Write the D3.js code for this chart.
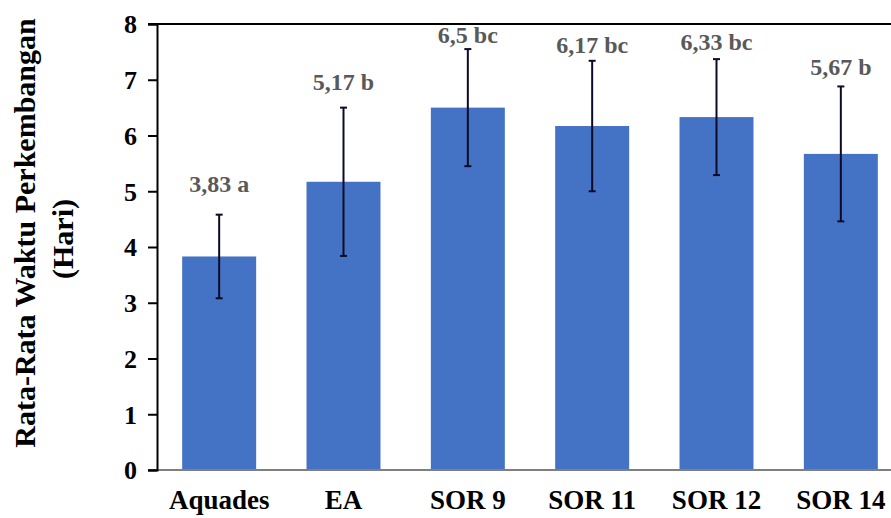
<!DOCTYPE html>
<html>
<head>
<meta charset="utf-8">
<script src="https://cdn.jsdelivr.net/npm/d3@7"></script>
<style>
  html, body { margin: 0; padding: 0; background: #fff; }
  svg { display: block; overflow: hidden; }
</style>
</head>
<body>
<svg id="chart"></svg>
<script>
// Data
const categories = ["Aquades", "EA", "SOR 9", "SOR 11", "SOR 12", "SOR 14"];
const means = [3.83, 5.17, 6.5, 6.17, 6.33, 5.67];
const errors = [0.75, 1.33, 1.05, 1.17, 1.04, 1.21];
const notations = ["3,83 a", "5,17 b", "6,5 bc", "6,17 bc", "6,33 bc", "5,67 b"];
const yTicks = [0, 1, 2, 3, 4, 5, 6, 7, 8];

// Size of chart svg
var width = 891;
var height = 518;
const serif = "'Liberation Serif', 'Times New Roman', serif";
// pixels between error bar top and label baseline (labels were hand placed)
const labelGap = [23, 18, 6, 8, 9, 11];

const svg = d3.select("#chart")
    .attr("width", width)
    .attr("height", height)
    .style("font-family", serif)
    .style("font-weight", "bold");

const x = d3.scaleBand()
    .domain(categories)
    .range([157, 903])
    .paddingInner(0.405)
    .paddingOuter(0.2025);

const y = d3.scaleLinear()
    .domain([0, 8])
    .range([470, 24]);

// bars
svg.append("g")
    .selectAll("rect")
    .data(means)
    .join("rect")
    .attr("x", (d, i) => x(categories[i]))
    .attr("y", d => y(d))
    .attr("width", x.bandwidth())
    .attr("height", d => y(0) - y(d))
    .attr("fill", "#4472c4");

// top border of plot area
svg.append("line")
    .attr("x1", 148).attr("x2", width)
    .attr("y1", y(8)).attr("y2", y(8))
    .attr("stroke", "#000").attr("stroke-width", 2);

// bottom axis line (grey)
svg.append("line")
    .attr("x1", 148).attr("x2", width)
    .attr("y1", y(0)).attr("y2", y(0))
    .attr("stroke", "#7f7f7f").attr("stroke-width", 2);

// y axis
const yAxis = svg.append("g")
    .attr("transform", "translate(157,0)")
    .call(d3.axisLeft(y).tickValues(yTicks).tickSize(9).tickPadding(11).tickFormat(d3.format("d")));
yAxis.attr("font-family", null).attr("font-size", null);
yAxis.select(".domain").attr("stroke", "#000").attr("stroke-width", 2);
yAxis.selectAll(".tick line").attr("stroke", "#000").attr("stroke-width", 2);
yAxis.selectAll(".tick text")
    .attr("fill", "#000")
    .style("font-family", serif)
    .style("font-weight", "bold")
    .style("font-size", "26px")
    .attr("dy", "0.34em");

// error bars
const err = svg.append("g")
    .attr("stroke", "#0b0b26")
    .attr("stroke-width", 2);
const cx = i => x(categories[i]) + x.bandwidth() / 2;
means.forEach((m, i) => {
    const top = y(m + errors[i]), bot = y(m - errors[i]);
    err.append("line").attr("x1", cx(i)).attr("x2", cx(i)).attr("y1", top).attr("y2", bot);
    err.append("line").attr("x1", cx(i) - 3.5).attr("x2", cx(i) + 3.5).attr("y1", top).attr("y2", top);
    err.append("line").attr("x1", cx(i) - 3.5).attr("x2", cx(i) + 3.5).attr("y1", bot).attr("y2", bot);
});

// data labels
svg.append("g")
    .selectAll("text")
    .data(notations)
    .join("text")
    .attr("x", (d, i) => cx(i))
    .attr("y", (d, i) => y(means[i] + errors[i]) - labelGap[i])
    .attr("text-anchor", "middle")
    .attr("fill", "#595959")
    .style("font-family", serif)
    .style("font-size", "24px")
    .text(d => d);

// category labels
svg.append("g")
    .selectAll("text")
    .data(categories)
    .join("text")
    .attr("x", (d, i) => cx(i))
    .attr("y", 509)
    .attr("text-anchor", "middle")
    .attr("fill", "#000")
    .style("font-family", serif)
    .style("font-size", "27px")
    .text(d => d);

// y title
const title = svg.append("text")
    .attr("transform", "rotate(-90)")
    .attr("text-anchor", "middle")
    .attr("fill", "#000")
    .style("font-family", serif)
    .style("font-size", "30px");
title.append("tspan").attr("x", -233).attr("y", 35).text("Rata-Rata Waktu Perkembangan");
title.append("tspan").attr("x", -239).attr("y", 73).text("(Hari)");
</script>
</body>
</html>
